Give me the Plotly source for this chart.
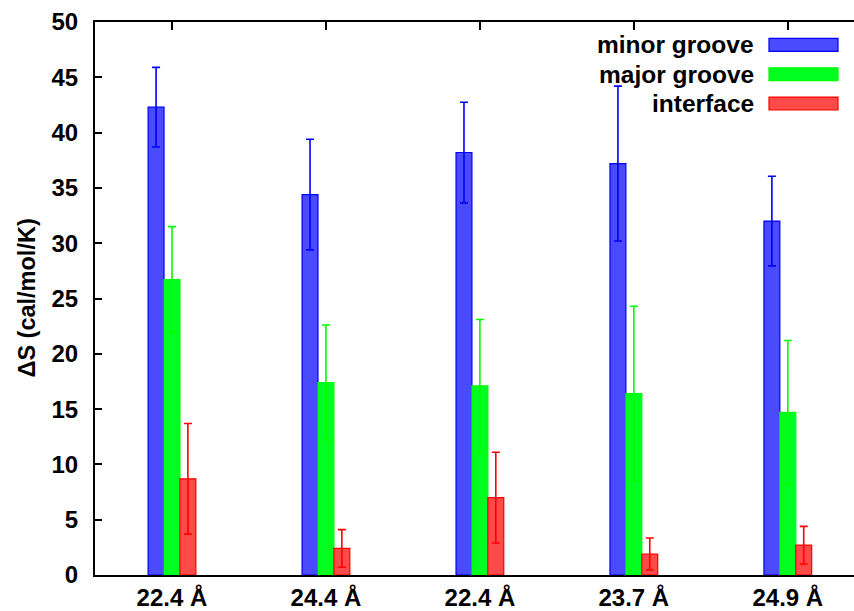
import plotly.graph_objects as go

# Entropy contributions per groove width
categories = ["22.4 Å", "24.4 Å", "22.4 Å", "23.7 Å", "24.9 Å"]
positions = [0, 1, 2, 3, 4]

minor_groove = [42.3, 34.4, 38.2, 37.2, 32.0]
minor_groove_err = [3.6, 5.0, 4.55, 7.0, 4.05]

major_groove = [26.7, 17.4, 17.1, 16.4, 14.7]
major_groove_err = [4.8, 5.2, 6.0, 7.9, 6.5]

interface = [8.7, 2.4, 7.0, 1.9, 2.7]
interface_err = [5.0, 1.7, 4.1, 1.45, 1.7]

y_ticks = list(range(0, 51, 5))

W, H = 854, 611
L, R, T, B = 95, 0, 22, 33
FAMILY = "Liberation Sans, Arial, sans-serif"
TICK_FONT = dict(family=FAMILY, size=24, color="black", weight="bold")
LEGEND_FONT = dict(family=FAMILY, size=24.5, color="black", weight="bold")

series = [
    ("minor groove", minor_groove, minor_groove_err, "rgba(74,74,255,1)", "#0000ff"),
    ("major groove", major_groove, major_groove_err, "#00ff20", "#00ff00"),
    ("interface", interface, interface_err, "rgba(255,74,74,1)", "#ff0000"),
]

fig = go.Figure()
for name, vals, errs, fill, edge in series:
    fig.add_trace(go.Bar(
        x=positions, y=vals, name=name,
        marker=dict(color=fill, line=dict(color=edge, width=1.2)),
        error_y=dict(type="data", array=errs, color=edge, thickness=1.6, width=4),
        showlegend=False,
    ))

# empty trace so the mirrored top axis (tick marks only) is drawn
fig.add_trace(go.Scatter(x=[None], y=[None], xaxis="x2", showlegend=False, hoverinfo="skip"))

x_range = [-0.5, 4.43]

fig.update_layout(
    width=W, height=H,
    margin=dict(l=L, r=R, t=T, b=B),
    paper_bgcolor="white", plot_bgcolor="white",
    barmode="group", bargap=0.69, bargroupgap=0,
    font=TICK_FONT,
    xaxis=dict(
        range=x_range, tickvals=positions, ticktext=categories,
        showline=True, linecolor="black", linewidth=2, mirror=True,
        ticks="", showgrid=False, zeroline=False,
        tickfont=TICK_FONT,
    ),
    xaxis2=dict(
        overlaying="x", side="top", range=x_range, tickvals=positions,
        ticks="inside", ticklen=8, tickwidth=1.5, tickcolor="black",
        showticklabels=False, showline=False, showgrid=False, zeroline=False,
    ),
    yaxis=dict(
        range=[0, 50], tickvals=y_ticks,
        showline=True, linecolor="black", linewidth=2, mirror=False,
        ticks="inside", ticklen=7, tickwidth=1.5, tickcolor="black",
        showgrid=False, zeroline=False, tickfont=TICK_FONT, ticklabelstandoff=10,
    ),
)

plot_w = W - L - R
plot_h = H - T - B


def px_x(px):
    return (px - L) / plot_w


def px_y(py):
    return (H - B - py) / plot_h


# y-axis title
fig.add_annotation(
    text="ΔS (cal/mol/K)", textangle=-90, xref="paper", yref="paper",
    x=px_x(26), y=0.5, xanchor="center", yanchor="middle", showarrow=False,
    font=dict(family=FAMILY, size=23.5, color="black", weight="bold"),
)

# legend: right-aligned labels with colour swatches
row_centers = [45, 74.5, 104]
for (name, _, _, fill, edge), yc in zip(series, row_centers):
    fig.add_annotation(
        text=name, xref="paper", yref="paper", x=px_x(756), y=px_y(yc),
        xanchor="right", yanchor="middle", showarrow=False, font=LEGEND_FONT,
    )
    fig.add_shape(
        type="rect", xref="paper", yref="paper",
        x0=px_x(769), x1=px_x(838), y0=px_y(yc - 6.5), y1=px_y(yc + 6.5),
        fillcolor=fill, line=dict(color=edge, width=1.2),
    )

fig.write_html("out.html")
